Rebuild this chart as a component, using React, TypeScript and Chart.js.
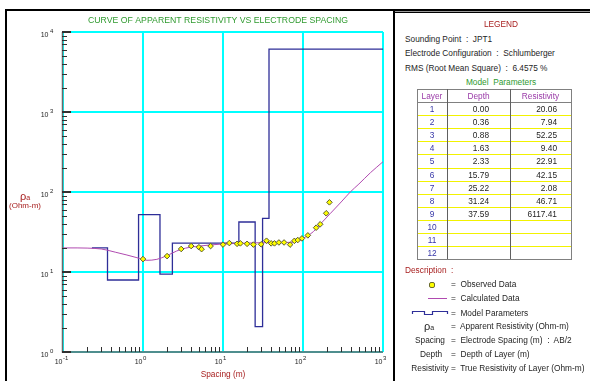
import React, { useEffect, useRef } from 'react';
import { Chart, registerables } from 'chart.js';

Chart.register(...registerables);

// ---------- data ----------
const titleText = 'CURVE OF APPARENT RESISTIVITY VS ELECTRODE SPACING';
const xAxisTitle = 'Spacing (m)';
const yAxisUnit = '(Ohm-m)';

const xDecades = [-1, 0, 1, 2, 3];
const yDecades = [0, 1, 2, 3, 4];

// observed data (AB/2 in m, apparent resistivity in Ohm-m)
const obsSpacing = [1.0, 2.0, 3.0, 4.0, 5.0, 5.4, 7.0, 10, 12, 15, 16.5, 20, 24, 30, 35, 40, 44, 50, 58, 69, 78, 86, 97, 115, 146, 164, 195, 214];
const obsRho = [14.5, 15.8, 19.4, 21.1, 20.4, 19.3, 21.1, 22.0, 23.0, 22.5, 22.8, 22.5, 22.0, 22.2, 24.6, 22.8, 22.8, 23.4, 23.4, 22.0, 24.5, 25.1, 26.3, 28.7, 35.8, 39.5, 54.2, 74.3];

// calculated curve
const calcSpacing = [0.1, 0.15, 0.2, 0.3, 0.354, 0.45, 0.63, 0.84, 1.12, 1.49, 1.93, 2.9, 4, 5.1, 7, 10, 15, 20, 29, 45, 69, 85, 100, 116, 135, 164, 220, 300, 390, 500, 700, 1000];
const calcRho = [20.0, 20.0, 19.9, 19.4, 18.8, 17.7, 16.3, 15.1, 14.0, 14.4, 15.8, 19.0, 20.5, 21.1, 21.8, 22.4, 22.8, 23.0, 23.2, 23.3, 23.5, 24.3, 26.3, 28.7, 32, 39.5, 54, 75, 100, 126, 175, 239];

// model parameters
const layerNumbers = [1, 2, 3, 4, 5, 6, 7, 8, 9, 10, 11, 12];
const layerDepths = [0.0, 0.36, 0.88, 1.63, 2.33, 15.79, 25.22, 31.24, 37.59];
const layerResistivities = [20.06, 7.94, 52.25, 9.4, 22.91, 42.15, 2.08, 46.71, 6117.41];
const modelStartSpacing = 0.23;
const modelEndSpacing = 1000;

const soundingPoint = 'JPT1';
const electrodeConfig = 'Schlumberger';
const rmsText = '6.4575 %';

// ---------- colours ----------
const CYAN = '#00ffff';
const MODEL = '#2e2e98';
const CALC = '#b04ab0';
const DARKRED = '#a82020';
const GREEN = '#2f9a2f';
const TXT = '#1e1e1e';
const FS = 8.3;

const isDecade = (v: number) => {
  if (!(v > 0)) return false;
  const l = Math.log10(v);
  return Math.abs(l - Math.round(l)) < 1e-6;
};

const axesPlugin = {
  id: 'logAxes',
  afterDraw(chart: any) {
    const { ctx, chartArea: a } = chart;
    const xs = chart.scales.x;
    const ys = chart.scales.y;
    ctx.save();
    // axis lines
    ctx.strokeStyle = '#6a6a6a';
    ctx.lineWidth = 1.5;
    ctx.beginPath();
    ctx.moveTo(a.left - 0.5, a.top);
    ctx.lineTo(a.left - 0.5, a.bottom);
    ctx.lineTo(a.right, a.bottom);
    ctx.stroke();
    // y ticks
    ctx.strokeStyle = '#303030';
    yDecades.forEach((d) => {
      const maxM = d === yDecades[yDecades.length - 1] ? 1 : 9;
      for (let m = 1; m <= maxM; m++) {
        const py = Math.round(ys.getPixelForValue(m * Math.pow(10, d)));
        ctx.lineWidth = m === 1 ? 2 : 1;
        const off = m === 1 ? 0 : 0.5;
        ctx.beginPath();
        ctx.moveTo(a.left - 1, py + off);
        ctx.lineTo(a.left + (m === 1 ? 8 : 4), py + off);
        ctx.stroke();
      }
    });
    // x ticks
    xDecades.forEach((d) => {
      const maxM = d === xDecades[xDecades.length - 1] ? 1 : 9;
      for (let m = 2; m <= maxM; m++) {
        const px = Math.round(xs.getPixelForValue(m * Math.pow(10, d)));
        ctx.lineWidth = 1;
        ctx.beginPath();
        ctx.moveTo(px + 0.5, a.bottom);
        ctx.lineTo(px + 0.5, a.bottom - 5);
        ctx.stroke();
      }
    });
    // tick labels
    ctx.fillStyle = TXT;
    ctx.textBaseline = 'middle';
    yDecades.forEach((d) => {
      const py = ys.getPixelForValue(Math.pow(10, d));
      ctx.font = "7px 'Liberation Sans', Arial, sans-serif";
      ctx.textAlign = 'right';
      ctx.fillText('10', 48.5, py + 3);
      ctx.font = "6px 'Liberation Sans', Arial, sans-serif";
      ctx.textAlign = 'left';
      ctx.fillText(String(d), 50, py - 1);
    });
    xDecades.forEach((d) => {
      const px = xs.getPixelForValue(Math.pow(10, d));
      ctx.font = "7px 'Liberation Sans', Arial, sans-serif";
      ctx.textAlign = 'right';
      ctx.fillText('10', px - 0.5, a.bottom + 10);
      ctx.font = "6px 'Liberation Sans', Arial, sans-serif";
      ctx.textAlign = 'left';
      ctx.fillText(String(d), px, a.bottom + 6.5);
    });
    // title
    ctx.fillStyle = GREEN;
    ctx.font = "9px 'Liberation Sans', Arial, sans-serif";
    ctx.textAlign = 'center';
    ctx.fillText(titleText, 218, 21, 260);
    ctx.restore();
  },
};

function ResistivityChart() {
  const ref = useRef<HTMLCanvasElement | null>(null);
  useEffect(() => {
    if (!ref.current) return;
    const modelPts = layerDepths.map((d, i) => ({ x: i === 0 ? modelStartSpacing : d, y: layerResistivities[i] }));
    modelPts.push({ x: modelEndSpacing, y: layerResistivities[layerResistivities.length - 1] });
    const chart = new Chart(ref.current, {
      type: 'scatter',
      data: {
        datasets: [
          {
            label: 'Model Parameters',
            data: modelPts,
            showLine: true,
            stepped: 'before',
            borderColor: MODEL,
            borderWidth: 1.3,
            pointRadius: 0,
            order: 3,
          } as any,
          {
            label: 'Calculated Data',
            data: calcSpacing.map((x, i) => ({ x, y: calcRho[i] })),
            showLine: true,
            borderColor: CALC,
            borderWidth: 1,
            pointRadius: 0,
            tension: 0.4,
            cubicInterpolationMode: 'monotone',
            order: 2,
          } as any,
          {
            label: 'Observed Data',
            data: obsSpacing.map((x, i) => ({ x, y: obsRho[i] })),
            showLine: false,
            pointStyle: 'rectRot',
            pointRadius: 2.8,
            pointBackgroundColor: '#ffff00',
            pointBorderColor: '#5a5a30',
            pointBorderWidth: 1,
            order: 1,
          } as any,
        ],
      },
      options: {
        animation: false,
        responsive: false,
        devicePixelRatio: 1,
        layout: { padding: { left: 63, top: 32, right: 7, bottom: 29 } },
        plugins: { legend: { display: false }, tooltip: { enabled: false }, title: { display: false } },
        scales: {
          x: {
            type: 'logarithmic',
            min: 0.1,
            max: 1000,
            ticks: { display: false },
            border: { display: false },
            grid: {
              drawTicks: false,
              lineWidth: 2,
              color: (c: any) => (c.tick && isDecade(c.tick.value) ? CYAN : 'rgba(0,0,0,0)'),
            },
          },
          y: {
            type: 'logarithmic',
            min: 1,
            max: 10000,
            ticks: { display: false },
            border: { display: false },
            grid: {
              drawTicks: false,
              lineWidth: 2,
              color: (c: any) => (c.tick && isDecade(c.tick.value) ? CYAN : 'rgba(0,0,0,0)'),
            },
          },
        },
      } as any,
      plugins: [axesPlugin],
    });
    return () => chart.destroy();
  }, []);
  return <canvas ref={ref} width={390} height={381} style={{ position: 'absolute', left: 0, top: 0, width: 390, height: 381 }} />;
}

const T = ({ x, y, children, color = TXT, size = FS, align = 'left' }: any) => {
  const h = Math.round(size + 4);
  const base: any = {
    position: 'absolute',
    top: y - h / 2,
    height: h,
    lineHeight: h + 'px',
    fontSize: size,
    color,
    whiteSpace: 'pre',
  };
  if (align === 'left') return <div style={{ ...base, left: x }}>{children}</div>;
  if (align === 'center') return <div style={{ ...base, left: x - 100, width: 200, textAlign: 'center' }}>{children}</div>;
  return <div style={{ ...base, left: x - 200, width: 200, textAlign: 'right' }}>{children}</div>;
};

const Box = ({ l, t, w, h, c }: any) => <div style={{ position: 'absolute', left: l, top: t, width: w, height: h, background: c }} />;

export default function App() {
  const tL = 417, tR = 571, tTop = 89, hdrH = 13, rowH = 13.1;
  const c1 = 447, c2 = 510;
  const tBottom = Math.round(tTop + hdrH + rowH * layerNumbers.length);
  const descRows = [284.3, 298.3, 312.5, 326.3, 340, 353.7, 367.7];
  return (
    <div
      style={{
        position: 'fixed',
        left: 0,
        top: 0,
        width: 590,
        height: 381,
        background: '#fff',
        overflow: 'hidden',
        fontFamily: "'Liberation Sans', Arial, sans-serif",
      }}
    >
      <ResistivityChart />
      {/* frames */}
      <Box l={5} t={9} w={585} h={2} c="#000" />
      <Box l={5} t={9} w={2} h={372} c="#000" />
      <Box l={393} t={11} w={197} h={1} c="#9a9a9a" />
      <Box l={393} t={12} w={197} h={1} c="#000" />
      <Box l={393} t={11} w={2} h={370} c="#000" />

      {/* axis titles */}
      <div style={{ position: 'absolute', left: 20, top: 188, color: DARKRED, whiteSpace: 'pre', lineHeight: '14px' }}>
        <span style={{ fontSize: 11 }}>ρ</span>
        <span style={{ fontSize: 7 }}>a</span>
      </div>
      <T x={25} y={206} color={DARKRED} size={8} align="center">{yAxisUnit}</T>
      <T x={223} y={374} color={DARKRED} size={8.3} align="center">{xAxisTitle}</T>

      {/* legend panel */}
      <T x={501} y={24} color={DARKRED} align="center">LEGEND</T>
      <T x={405} y={38.7}>{'Sounding Point  :  ' + soundingPoint}</T>
      <T x={405} y={53}>{'Electrode Configuration  :  ' + electrodeConfig}</T>
      <T x={405} y={68}>{'RMS (Root Mean Square)  :  ' + rmsText}</T>
      <T x={501} y={81.7} color={GREEN} align="center">{'Model  Parameters'}</T>

      {/* table */}
      {layerNumbers.map((n, i) => (
        <Box key={'r' + n} l={tL} t={Math.round(tTop + hdrH + rowH * (i + 1))} w={tR - tL} h={1} c="#f2f200" />
      ))}
      <Box l={tL} t={tTop + hdrH} w={tR - tL} h={1} c="#808080" />
      <Box l={tL} t={tTop} w={tR - tL} h={1} c="#808080" />
      <Box l={tL} t={tBottom} w={tR - tL + 1} h={1} c="#808080" />
      <Box l={tL} t={tTop} w={1} h={tBottom - tTop} c="#808080" />
      <Box l={tR} t={tTop} w={1} h={tBottom - tTop} c="#808080" />
      <Box l={c1} t={tTop} w={1} h={tBottom - tTop} c="#606060" />
      <Box l={c2} t={tTop} w={1} h={tBottom - tTop} c="#606060" />
      <T x={(tL + c1) / 2} y={tTop + hdrH / 2 + 0.5} color="#9a3aa8" align="center">Layer</T>
      <T x={(c1 + c2) / 2} y={tTop + hdrH / 2 + 0.5} color="#9a3aa8" align="center">Depth</T>
      <T x={(c2 + tR) / 2} y={tTop + hdrH / 2 + 0.5} color="#9a3aa8" align="center">Resistivity</T>
      {layerNumbers.map((n, i) => {
        const cy = tTop + hdrH + rowH * i + rowH / 2 + 0.5;
        return (
          <React.Fragment key={'t' + n}>
            <T x={(tL + c1) / 2} y={cy} color="#3535a8" align="center">{String(n)}</T>
            {i < layerDepths.length && (
              <T x={489} y={cy} align="right">{layerDepths[i].toFixed(2)}</T>
            )}
            {i < layerResistivities.length && (
              <T x={557} y={cy} align="right">{layerResistivities[i].toFixed(2)}</T>
            )}
          </React.Fragment>
        );
      })}

      {/* description */}
      <T x={405} y={270} color={DARKRED}>{'Description  :'}</T>
      <div
        style={{
          position: 'absolute',
          left: 429,
          top: descRows[0] - 2,
          width: 3.5,
          height: 3.5,
          background: '#ffff00',
          border: '0.5px solid #6a6a30',
          borderRadius: 2,
        }}
      />
      <Box l={428} t={298} w={19} h={1} c={CALC} />
      <svg style={{ position: 'absolute', left: 410, top: 308 }} width={40} height={10}>
        <path d="M2.5,6 L2.5,3.5 L14.5,3.5 L14.5,6.5 L22.5,6.5 L22.5,3.5 L37.5,3.5 L37.5,6" fill="none" stroke={MODEL} strokeWidth={1.2} />
      </svg>
      <div style={{ position: 'absolute', left: 424, top: descRows[3] - 8, color: TXT, whiteSpace: 'pre', lineHeight: '14px' }}>
        <span style={{ fontSize: 11 }}>ρ</span>
        <span style={{ fontSize: 7 }}>a</span>
      </div>
      <T x={430} y={descRows[4]} align="center">Spacing</T>
      <T x={431} y={descRows[5]} align="center">Depth</T>
      <T x={430} y={descRows[6]} align="center">Resistivity</T>
      <T x={451} y={descRows[0]}>{'=  Observed Data'}</T>
      <T x={451} y={descRows[1]}>{'=  Calculated Data'}</T>
      <T x={451} y={descRows[2]}>{'=  Model Parameters'}</T>
      <T x={451} y={descRows[3]}>{'=  Apparent Resistivity (Ohm-m)'}</T>
      <T x={451} y={descRows[4]}>{'=  Electrode Spacing (m)  :  AB/2'}</T>
      <T x={451} y={descRows[5]}>{'=  Depth of Layer (m)'}</T>
      <T x={451} y={descRows[6]}>{'=  True Resistivity of Layer (Ohm-m)'}</T>
    </div>
  );
}
